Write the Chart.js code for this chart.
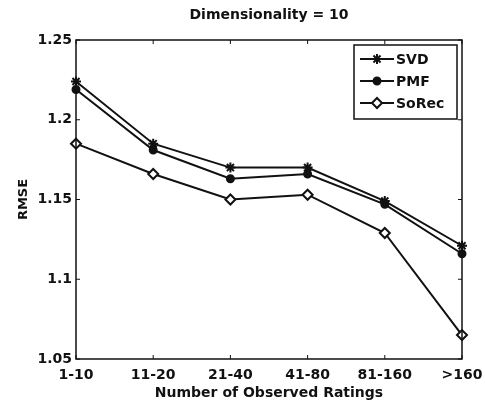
<!DOCTYPE html>
<html>
<head>
<meta charset="utf-8">
<script src="https://cdn.jsdelivr.net/npm/chart.js@4"></script>
<style>
  html, body { margin: 0; padding: 0; background: #fff; }
  #wrap { width: 485px; height: 406px; }
</style>
</head>
<body>
<div id="wrap"><canvas id="myChart"></canvas></div>
<script>
var categories = ['1-10', '11-20', '21-40', '41-80', '81-160', '>160'];
var svdVals   = [1.224, 1.185, 1.170, 1.170, 1.149, 1.121];
var pmfVals   = [1.219, 1.181, 1.163, 1.166, 1.147, 1.116];
var sorecVals = [1.185, 1.166, 1.150, 1.153, 1.129, 1.065];
var yTicks = [1.05, 1.1, 1.15, 1.2, 1.25];
var chartTitle = 'Dimensionality = 10';

var FONT = '"DejaVu Sans", "Liberation Sans", Arial, sans-serif';

// box round the plot, inward ticks, title over the plot and the legend box
var framePlugin = {
  id: 'frame',
  afterDraw(chart) {
    var ctx = chart.ctx, a = chart.chartArea;
    var xs = chart.scales.x, ys = chart.scales.y;
    ctx.save();
    ctx.strokeStyle = '#111';
    ctx.lineWidth = 1.5;
    ctx.strokeRect(a.left, a.top, a.right - a.left, a.bottom - a.top);
    ctx.lineWidth = 1;
    categories.forEach(function (c, i) {
      var x = xs.getPixelForValue(i);
      ctx.beginPath();
      ctx.moveTo(x, a.bottom); ctx.lineTo(x, a.bottom - 4);
      ctx.moveTo(x, a.top); ctx.lineTo(x, a.top + 4);
      ctx.stroke();
    });
    yTicks.forEach(function (v) {
      var y = ys.getPixelForValue(v);
      ctx.beginPath();
      ctx.moveTo(a.left, y); ctx.lineTo(a.left + 4, y);
      ctx.moveTo(a.right, y); ctx.lineTo(a.right - 4, y);
      ctx.stroke();
    });

    // title
    ctx.fillStyle = '#111';
    ctx.font = 'bold 14px ' + FONT;
    ctx.textAlign = 'center';
    ctx.textBaseline = 'middle';
    ctx.fillText(chartTitle, (a.left + a.right) / 2, 15);

    // legend
    var bx = a.right - 108, by = a.top + 5, bw = 103, bh = 74;
    ctx.fillStyle = '#fff';
    ctx.fillRect(bx, by, bw, bh);
    ctx.strokeStyle = '#111';
    ctx.lineWidth = 1.5;
    ctx.strokeRect(bx, by, bw, bh);
    chart.data.datasets.forEach(function (ds, i) {
      var ly = by + 14 + i * 22;
      ctx.strokeStyle = '#111';
      ctx.lineWidth = 2;
      ctx.beginPath();
      ctx.moveTo(bx + 6, ly); ctx.lineTo(bx + 40, ly);
      ctx.stroke();
      ctx.fillStyle = ds.pointBackgroundColor;
      Chart.helpers.drawPoint(ctx, {
        pointStyle: ds.pointStyle, radius: ds.pointRadius,
        borderWidth: ds.pointBorderWidth, rotation: 0
      }, bx + 23, ly);
      ctx.fillStyle = '#111';
      ctx.textAlign = 'left';
      ctx.fillText(ds.label, bx + 42, ly + 1);
    });
    ctx.restore();
  }
};

var mk = function (label, data, style, radius, bg) {
  return {
    label: label,
    data: data,
    borderColor: '#111',
    backgroundColor: bg,
    borderWidth: 2,
    pointStyle: style,
    pointRadius: radius,
    pointBorderWidth: 2,
    pointBorderColor: '#111',
    pointBackgroundColor: bg,
    tension: 0
  };
};

var ctx = document.getElementById('myChart');
var myChart = new Chart(ctx, {
  type: 'line',
  data: {
    labels: categories,
    datasets: [
      mk('SVD', svdVals, 'star', 5, '#111'),
      mk('PMF', pmfVals, 'circle', 3.5, '#111'),
      mk('SoRec', sorecVals, 'rectRot', 5, '#fff')
    ]
  },
  plugins: [framePlugin],
  options: {
    responsive: true,
    maintainAspectRatio: false,
    animation: false,
    layout: { padding: { top: 40, right: 23, left: 0, bottom: 0 } },
    plugins: {
      legend: { display: false },
      tooltip: { enabled: false },
      title: { display: false }
    },
    scales: {
      x: {
        type: 'category',
        offset: false,
        grid: { display: false, drawTicks: false },
        border: { display: false },
        ticks: {
          color: '#111', padding: 8, maxRotation: 0, autoSkip: false,
          font: { family: FONT, size: 14, weight: 'bold' }
        },
        title: {
          display: true, text: 'Number of Observed Ratings', color: '#111',
          font: { family: FONT, size: 14, weight: 'bold' }, padding: { top: 4, bottom: 4 }
        },
        afterFit: function (s) { s.height = 47; s.paddingLeft = 0; s.paddingRight = 0; }
      },
      y: {
        min: 1.05, max: 1.25,
        grid: { display: false, drawTicks: false },
        border: { display: false },
        afterBuildTicks: function (s) { s.ticks = yTicks.map(function (v) { return { value: v }; }); },
        ticks: {
          color: '#111', padding: 4,
          font: { family: FONT, size: 14, weight: 'bold' },
          callback: function (v) { return String(+v.toFixed(2)); }
        },
        title: {
          display: true, text: 'RMSE', color: '#111',
          font: { family: FONT, size: 13, weight: 'bold' }, padding: { top: 16, bottom: 0 }
        },
        afterFit: function (s) { s.width = 76; s.paddingTop = 0; s.paddingBottom = 0; }
      }
    }
  }
});
</script>
</body>
</html>
